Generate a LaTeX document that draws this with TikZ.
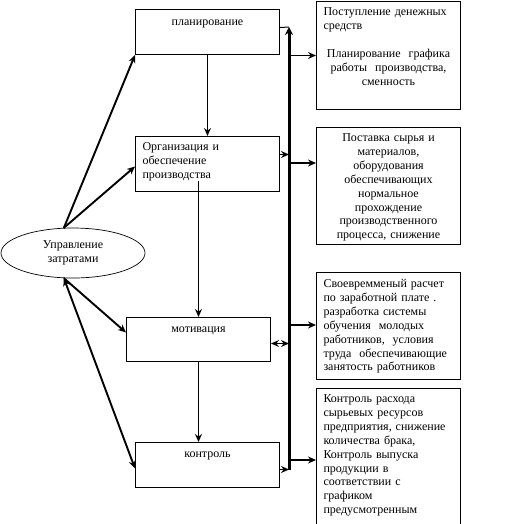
\documentclass[tikz,border=0pt]{standalone}
\usepackage{fontspec}
\setmainfont{Liberation Serif}
\usetikzlibrary{arrows.meta, shapes.geometric}

\begin{document}
\begin{tikzpicture}[
  x=1pt, y=-1pt,
  font=\fontsize{12}{13.9}\selectfont,
  box/.style={
    draw,
    line width=1pt,
    anchor=north west,
    inner xsep=7pt,
    inner ysep=0pt,
    text width=130pt
  },
  arrow/.style={-{Stealth[length=8pt,width=7pt]}, line width=1.9pt},
  twoway/.style={{Stealth[length=8pt,width=7pt]}-{Stealth[length=8pt,width=7pt]}, line width=1.9pt},
  bus/.style={line width=3pt}
]
\useasboundingbox (0,0) rectangle (524,523);
\clip (0,0) rectangle (524,523);

% --- Management ---
\node[draw, ellipse, line width=0.7pt, minimum width=144pt, minimum height=50pt,
  align=center, inner sep=0pt] (mgmt) at (73,253) {Управление\\ затратами};

% --- Functions (left column) ---
\node[box, align=center, text height=16pt, text depth=29pt] (plan) at (135,9)
{планирование};

\node[box, align=left, text height=14pt, text depth=41pt] (org) at (135,136)
{Организация и\\ обеспечение\\ производства};

\node[box, align=center, text height=15pt, text depth=29pt] (motiv) at (126,317)
{мотивация};

\node[box, align=center, text height=15pt, text depth=30pt] (ctrl) at (135,442)
{контроль};

% --- Measures (right column) ---
\node[box, align=left, text height=14pt, text depth=94pt] (cash) at (316,1)
{Поступление денежных\\ средств\par\vspace{\baselineskip}
{\centering Планирование\ \ графика\\ работы\ \ производства,\\ сменность\par}};

\node[box, align=center, text height=14pt, text depth=103pt] (supply) at (316,127)
{Поставка сырья и\\ материалов,\\ оборудования\\ обеспечивающих\\ нормальное\\
прохождение\\ производственного\\ процесса, снижение};

\node[box, align=left, text height=15pt, text depth=92pt] (wage) at (316,272)
{Своевремменый расчет\\ по заработной плате .\\ разработка системы\\
обучения\ \ молодых\\ работников,\ \ условия\\ труда\ \ обеспечивающие\\
занятость работников};

\node[box, align=left, text height=14pt, text depth=128pt] (check) at (316,388)
{Контроль расхода\\ сырьевых ресурсов\\ предприятия, снижение\\
количества брака,\\ Контроль выпуска\\ продукции в\\ соответствии с\\
графиком\\ предусмотренным};

% --- Management arrows ---
\draw[arrow] (mgmt.110) -- (plan.south west);
\draw[arrow] (mgmt.110) -- ([yshift=-2.5pt]org.west);
\draw[arrow] (mgmt.250) -- ([yshift=7pt]motiv.west);
\draw[twoway] (mgmt.250) -- ([yshift=-3.5pt]ctrl.west);

% --- Chain of functions ---
\draw[arrow] (plan.south) -- (org.north);
\draw[arrow] ([yshift=11pt]org.south -| motiv.north) -- (motiv.north);
\draw[arrow] (motiv.south) -- (motiv.south |- ctrl.north);

% --- Bus ---
\coordinate (bustop) at (289,27);
\coordinate (busbot) at (289,470);
\draw[bus, -{Stealth[length=8pt,width=8pt]}] (busbot) -- (bustop);
\draw[line width=1pt] ([yshift=4.5pt]plan.east) -- (bustop);

\coordinate (orgout) at ([yshift=9.5pt]org.east);
\coordinate (motivout) at ([yshift=-4pt]motiv.east);
\coordinate (ctrlout) at ([yshift=-4.5pt]ctrl.east);
\draw[arrow] (orgout) -- (orgout -| bustop);
\draw[twoway] (motivout) -- (motivout -| bustop);
\draw[arrow] (ctrlout) -- (ctrlout -| bustop);

% --- Branches to measures ---
\coordinate (supplyin) at ([yshift=-36pt]supply.north west);
\coordinate (wagein) at ([yshift=-53pt]wage.north west);
\coordinate (checkin) at ([yshift=-72pt]check.north west);
\draw[arrow] (cash.west -| bustop) -- (cash.west);
\draw[arrow] (supplyin -| bustop) -- (supplyin);
\draw[arrow] (wagein -| bustop) -- (wagein);
\draw[arrow] (checkin -| bustop) -- (checkin);

\end{tikzpicture}
\end{document}
